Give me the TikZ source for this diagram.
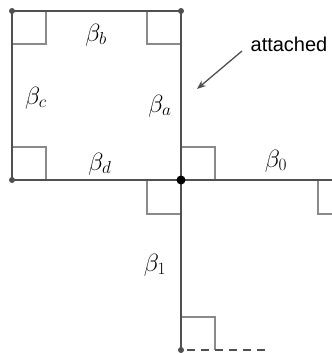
\documentclass[tikz,border=0pt]{standalone}
\usepackage{fontspec}
\newfontfamily\labelfont{Liberation Sans}
\usetikzlibrary{arrows.meta}
\definecolor{mainline}{HTML}{505050}
\definecolor{markline}{HTML}{8A8A8A}
\tikzset{
  edge/.style={draw=mainline, line width=1.8pt},
  rmark/.style={draw=markline, line width=1.2pt},
  cornerdot/.style={circle, fill=mainline, inner sep=0pt, minimum size=6pt},
  bigdot/.style={circle, fill=black, inner sep=0pt, minimum size=9pt},
  lab/.style={inner sep=0pt, font=\fontsize{23}{27}\selectfont},
}
\begin{document}
\begin{tikzpicture}[x=1pt, y=-1pt]
\useasboundingbox (0,0) rectangle (332,354);
\clip (0,0) rectangle (332,354);
% right-angle marks
\draw[rmark] (12,44) -- (46,44) -- (46,11);
\draw[rmark] (147,11) -- (147,44) -- (181,44);
\draw[rmark] (12,147) -- (46,147) -- (46,180);
\draw[rmark] (181,147) -- (215,147) -- (215,180);
\draw[rmark] (147,180) -- (147,214) -- (181,214);
\draw[rmark] (318,180) -- (318,214) -- (340,214);
\draw[rmark] (181,317) -- (215,317) -- (215,350);
% points
\coordinate (tl) at (12,11);
\coordinate (tr) at (181,11);
\coordinate (bl) at (12,180);
\coordinate (c) at (181,180);
\coordinate (r) at (340,180);
\coordinate (b) at (181,350);
\coordinate (de) at (265,350);
% lines
\draw[edge] (tl) -- (tr) -- (c) -- (bl) -- cycle;
\draw[edge] (c) -- (r);
\draw[edge] (c) -- (b);
\draw[mainline, line width=1.8pt, dash pattern=on 8pt off 6pt] (b) ++(6,0) -- (de);
% dots
\node[cornerdot] (ntl) at (tl) {};
\node[cornerdot] (ntr) at (tr) {};
\node[cornerdot] (nbl) at (bl) {};
\node[cornerdot] (nb) at (b) {};
\node[bigdot] (nc) at (c) {};
% labels
\node[lab] (lb) at (96,35) {$\beta_b$};
\node[lab] (lc) at (36,98) {$\beta_c$};
\node[lab] (la) at (160,106) {$\beta_a$};
\node[lab] (ld) at (100,164) {$\beta_d$};
\node[lab] (l0) at (276,161) {$\beta_0$};
\node[lab] (l1) at (155,265) {$\beta_1$};
\node[inner sep=0pt, font=\labelfont\fontsize{20}{24}\selectfont] (att) at (289,44) {attached};
\coordinate (arrowend) at (197,89);
\draw[mainline, line width=1.3pt, -{Stealth[length=9pt, width=7pt]}] (242,51) -- (arrowend);
\end{tikzpicture}
\end{document}
